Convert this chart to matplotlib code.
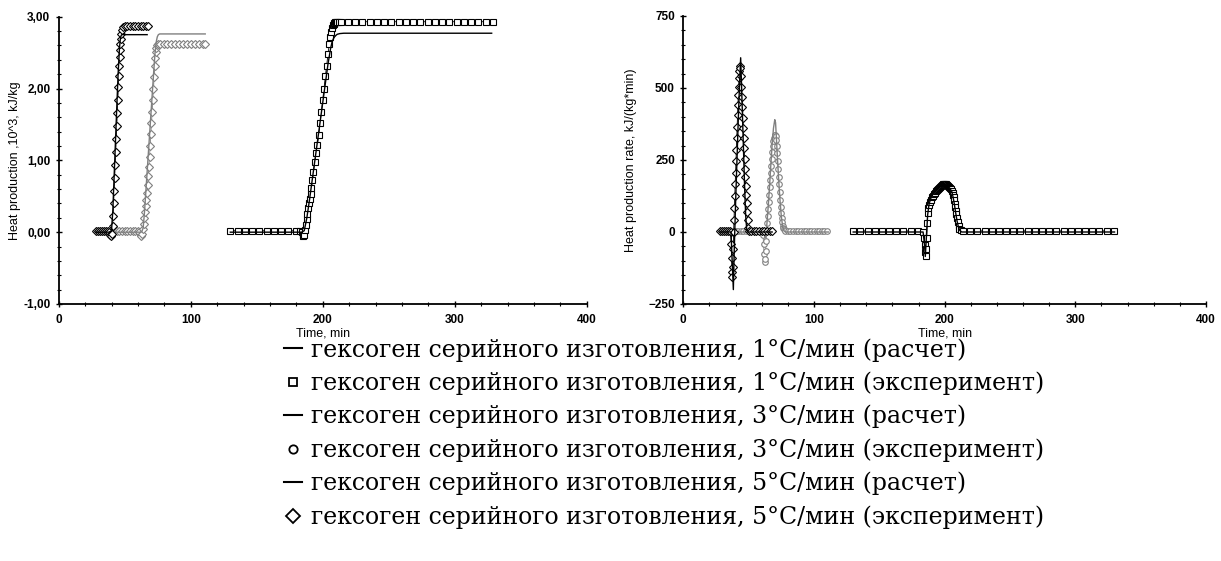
import numpy as np
import matplotlib.pyplot as plt
from matplotlib.lines import Line2D
from matplotlib.ticker import MultipleLocator, FuncFormatter

# ---- heat production, 10^3 kJ/kg (left panel) ----
# 1 C/min, calculation
t_c1 = [130, 184, 186, 188, 190, 192, 194, 196, 198, 200, 202, 204, 206, 207, 208,
        209, 210, 211, 213, 216, 328]
q_c1 = [0, 0, 0.02, 0.2, 0.45, 0.72, 0.99, 1.26, 1.53, 1.8, 2.07, 2.34, 2.56, 2.64, 2.69,
        2.72, 2.74, 2.755, 2.765, 2.77, 2.77]
# 1 C/min, experiment
t_e1 = [130, 135.5, 141, 146.5, 152, 157.5, 163, 168.5, 174, 179.5, 183,
        184, 184.7, 185.3, 186, 186.6, 187.2, 187.8, 188.4, 189, 189.6,
        190.2, 190.8, 191.5, 192.2, 193, 194, 195, 196, 197, 198,
        199, 200, 201, 202, 203, 204, 205, 205.8, 206.5, 207.1,
        207.7, 208.3, 208.9, 209.5, 210.2, 211, 212, 213.5,
        219, 224.5, 230, 235.5, 241, 246.5, 252, 257.5, 263, 268.5, 274,
        279.5, 285, 290.5, 296, 301.5, 307, 312.5, 318, 323.5, 329]
q_e1 = [0.02, 0.02, 0.02, 0.02, 0.02, 0.02, 0.02, 0.02, 0.02, 0.02, 0.02,
        0.0, -0.04, -0.06, -0.04, 0.03, 0.10, 0.18, 0.26, 0.33, 0.40,
        0.46, 0.53, 0.62, 0.72, 0.84, 0.98, 1.10, 1.22, 1.35, 1.52,
        1.68, 1.84, 2.00, 2.17, 2.32, 2.48, 2.62, 2.72, 2.79, 2.84,
        2.88, 2.90, 2.91, 2.92, 2.93, 2.93, 2.93, 2.93,
        2.93, 2.93, 2.93, 2.93, 2.93, 2.93, 2.93, 2.93, 2.93, 2.93, 2.93,
        2.93, 2.93, 2.93, 2.93, 2.93, 2.93, 2.93, 2.93, 2.93, 2.93]
# 3 C/min, calculation
t_c3 = [40, 62, 63, 64, 65, 66, 67, 68, 69, 70, 71, 72, 73, 74, 74.7, 75.5, 76.5, 111]
q_c3 = [0, 0, 0.01, 0.06, 0.28, 0.56, 0.84, 1.12, 1.4, 1.68, 1.96, 2.24, 2.5, 2.66, 2.72,
        2.75, 2.76, 2.76]
# 3 C/min, experiment
t_e3 = [40, 42, 44, 46, 48, 50, 52, 54, 56, 58, 60,
        61.2, 62.0, 62.6, 63.2, 63.8, 64.3, 64.8, 65.3, 65.8, 66.3,
        66.8, 67.3, 67.8, 68.3, 68.8, 69.3, 69.8, 70.3, 70.8, 71.3,
        71.8, 72.3, 72.8, 73.2, 73.6, 74.0, 74.5, 75.5,
        77, 79.5, 82, 85, 88, 91, 94, 97, 100, 103, 106, 109, 111]
q_e3 = [0.02, 0.02, 0.02, 0.02, 0.02, 0.02, 0.02, 0.02, 0.02, 0.02, 0.02,
        0.0, -0.04, -0.06, -0.03, 0.05, 0.12, 0.20, 0.28, 0.36, 0.45,
        0.55, 0.66, 0.78, 0.91, 1.05, 1.20, 1.36, 1.52, 1.68, 1.84,
        2.00, 2.16, 2.31, 2.42, 2.51, 2.57, 2.61, 2.62,
        2.62, 2.62, 2.62, 2.62, 2.62, 2.62, 2.62, 2.62, 2.62, 2.62, 2.62, 2.62, 2.62]
# 5 C/min, calculation
t_c5 = [28, 38, 40, 41, 42, 43, 44, 45, 46, 46.5, 47, 47.5, 48, 67]
q_c5 = [0, 0, 0.02, 0.3, 0.78, 1.26, 1.74, 2.2, 2.55, 2.66, 2.72, 2.745, 2.75, 2.75]
# 5 C/min, experiment
t_e5 = [28, 29.5, 31, 32.5, 34, 35.5, 37, 38, 38.8, 39.5, 40.2,
        40.8, 41.2, 41.6, 42.0, 42.4, 42.8, 43.2, 43.6, 44.0, 44.4,
        44.8, 45.2, 45.5, 45.8, 46.1, 46.4, 46.7, 47.0, 47.4, 47.9,
        48.5, 50, 52, 54, 56, 58, 60, 62, 64, 66, 68]
q_e5 = [0.02, 0.02, 0.02, 0.02, 0.02, 0.02, 0.02, 0.0, -0.04, -0.06, -0.03,
        0.08, 0.22, 0.40, 0.58, 0.76, 0.94, 1.12, 1.30, 1.48, 1.66,
        1.84, 2.02, 2.17, 2.32, 2.44, 2.54, 2.62, 2.69, 2.76, 2.82,
        2.86, 2.87, 2.87, 2.87, 2.87, 2.87, 2.87, 2.87, 2.87, 2.87, 2.87]

# ---- heat production rate, kJ/(kg*min) (right panel) ----
t_rc1 = [130, 183.5, 184.5, 185.2, 186, 187, 188, 189, 190, 192, 194, 196, 198, 200,
         202, 204, 205.5, 206.5, 207.5, 208.5, 209.5, 210.5, 211.5, 213, 330]
r_rc1 = [0, 0, -40, -85, -20, 60, 95, 112, 124, 138, 149, 158, 164, 166,
         162, 152, 140, 120, 95, 65, 38, 18, 6, 0, 0]
t_re1 = [130, 135.5, 141, 146.5, 152, 157.5, 163, 168.5, 174, 179.5,
         183.5, 184.2, 184.6, 185.0, 185.4, 185.8, 186.2, 186.6, 187.0, 187.5,
         188.0, 188.6, 189.2, 190.0, 190.8, 191.6, 192.4, 193.2, 194.0, 194.8,
         195.6, 196.4, 197.2, 198.0, 198.8, 199.6, 200.4, 201.2, 202.0, 202.8,
         203.6, 204.4, 205.0, 205.6, 206.2, 206.6, 207.0, 207.4, 207.8, 208.2,
         208.6, 209.0, 209.5, 210.0, 210.6, 211.3, 212.5,
         214, 219.5, 225, 230.5, 236, 241.5, 247, 252.5, 258, 263.5, 269,
         274.5, 280, 285.5, 291, 296.5, 302, 307.5, 313, 318.5, 324, 329.5]
r_re1 = [4, 4, 4, 4, 4, 4, 4, 4, 4, 4,
         0, -20, -45, -70, -82, -60, -20, 30, 66, 82,
         94, 104, 112, 120, 126, 132, 137, 141, 145, 149,
         153, 157, 160, 163, 165, 166, 166, 165, 163, 160,
         157, 153, 148, 142, 136, 130, 122, 110, 98, 86,
         74, 62, 48, 35, 22, 12, 6,
         4, 4, 4, 4, 4, 4, 4, 4, 4, 4, 4,
         4, 4, 4, 4, 4, 4, 4, 4, 4, 4, 4]
t_rc3 = [40, 62.0, 62.6, 63.2, 64.0, 65.0, 66.0, 67.0, 68.0, 69.0, 70.0, 70.6, 71.2,
         72.0, 73.0, 74.0, 75.0, 76.0, 77.0, 78.0, 111]
r_rc3 = [0, 0, -20, -10, 30, 90, 160, 235, 305, 360, 390, 380, 330,
         260, 180, 110, 55, 20, 5, 0, 0]
t_re3 = [40, 42, 44, 46, 48, 50, 52, 54, 56, 58, 60,
         61.0, 61.4, 61.8, 62.2, 62.6, 63.0, 63.4, 63.8,
         64.2, 64.6, 65.0, 65.4, 65.8, 66.2, 66.6, 67.0, 67.4, 67.8,
         68.2, 68.6, 69.0, 69.4, 69.8, 70.2, 70.6, 71.0, 71.4, 71.8,
         72.2, 72.6, 73.0, 73.4, 73.8, 74.2, 74.6, 75.0, 75.4, 75.8,
         76.2, 76.6, 77.0, 77.5, 78.0,
         80, 82, 84, 86, 88, 90, 92, 94, 96, 98, 100, 102, 104, 106, 108, 110]
r_re3 = [5, 5, 5, 5, 5, 5, 5, 5, 5, 5, 5,
         -10, -40, -75, -103, -95, -65, -30, 5,
         30, 55, 80, 105, 130, 155, 180, 205, 230, 255,
         278, 298, 315, 328, 336, 338, 334, 320, 300, 275,
         248, 220, 192, 165, 138, 112, 88, 66, 48, 33,
         22, 14, 9, 6, 5,
         5, 5, 5, 5, 5, 5, 5, 5, 5, 5, 5, 5, 5, 5, 5, 5]
t_rc5 = [28, 36.5, 37.3, 38.3, 39.0, 40.0, 41.0, 42.0, 43.0, 43.9, 44.5, 45.3, 46.1,
         46.9, 47.7, 48.5, 49.3, 68]
r_rc5 = [0, 0, -90, -200, -60, 100, 240, 380, 510, 605, 520, 400, 280,
         160, 60, 10, 0, 0]
t_re5 = [28, 29.5, 31, 32.5, 34, 35.5,
         36.2, 36.7, 37.0, 37.3, 37.6, 37.9, 38.2, 38.5,
         38.8, 39.1, 39.4, 39.7, 40.0, 40.3, 40.6, 40.9, 41.2, 41.5,
         41.8, 42.1, 42.4, 42.7, 43.0, 43.3, 43.7, 44.1, 44.5, 44.9,
         45.3, 45.7, 46.0, 46.3, 46.6, 46.9, 47.2, 47.5, 47.8, 48.1,
         48.4, 48.8, 49.3, 49.8,
         50.5, 52, 54, 56, 58, 60, 62, 64, 66, 68]
r_re5 = [3, 3, 3, 3, 3, 3,
         0, -40, -90, -140, -155, -120, -60, 0,
         40, 85, 125, 165, 205, 245, 285, 325, 365, 405,
         440, 475, 505, 535, 560, 575, 570, 540, 505, 470,
         435, 395, 360, 325, 290, 255, 220, 190, 160, 130,
         100, 70, 40, 15,
         3, 3, 3, 3, 3, 3, 3, 3, 3, 3]

labels = ["гексоген серийного изготовления, 1°C/мин (расчет)",
          "гексоген серийного изготовления, 1°C/мин (эксперимент)",
          "гексоген серийного изготовления, 3°C/мин (расчет)",
          "гексоген серийного изготовления, 3°C/мин (эксперимент)",
          "гексоген серийного изготовления, 5°C/мин (расчет)",
          "гексоген серийного изготовления, 5°C/мин (эксперимент)"]

GRAY = '#808080'
plt.rcParams['font.family'] = 'Liberation Sans'

fig = plt.figure(figsize=(12.21, 5.61), dpi=100)
W, H = 1221, 561
ax1 = fig.add_axes([58.7 / W, 1 - 304 / H, 528 / W, 287.3 / H])
ax2 = fig.add_axes([683.3 / W, 1 - 304 / H, 522.7 / W, 288 / H])

mk = dict(ms=4.0, mew=0.8, mfc='white', lw=0.6)

# left panel
ax1.plot(t_e1, q_e1, marker='s', color='black', **mk)
ax1.plot(t_c1, q_c1, color='black', lw=1.0)
ax1.plot(t_e3, q_e3, marker='D', color=GRAY, **mk)
ax1.plot(t_c3, q_c3, color=GRAY, lw=1.0)
ax1.plot(t_e5, q_e5, marker='D', color='black', **mk)
ax1.plot(t_c5, q_c5, color='black', lw=1.0)

# right panel
ax2.plot(t_re1, r_re1, marker='s', color='black', **mk)
ax2.plot(t_rc1, r_rc1, color='black', lw=1.0)
ax2.plot(t_re3, r_re3, marker='o', color=GRAY, **mk)
ax2.plot(t_rc3, r_rc3, color=GRAY, lw=1.0)
ax2.plot(t_re5, r_re5, marker='D', color='black', **mk)
ax2.plot(t_rc5, r_rc5, color='black', lw=1.0)

ax1.set_xlim(0, 400)
ax1.set_ylim(-1, 3)
ax1.yaxis.set_major_locator(MultipleLocator(1))
ax1.yaxis.set_minor_locator(MultipleLocator(0.2))
ax1.yaxis.set_major_formatter(FuncFormatter(lambda v, p: f"{v:.2f}".replace('.', ',')))
ax1.set_ylabel("Heat production ,10^3, kJ/kg", fontsize=9)
ax1.yaxis.set_label_coords(-0.072, 0.5)
ax1.xaxis.set_label_coords(0.521, -0.082)

ax2.set_xlim(0, 400)
ax2.set_ylim(-250, 750)
ax2.yaxis.set_major_locator(MultipleLocator(250))
ax2.yaxis.set_minor_locator(MultipleLocator(50))
ax2.set_ylabel("Heat production rate, kJ/(kg*min)", fontsize=9)
ax2.yaxis.set_label_coords(-0.088, 0.5)
ax2.xaxis.set_label_coords(0.524, -0.082)

for ax in (ax1, ax2):
    ax.set_xlabel("Time, min", fontsize=9)
    ax.xaxis.set_major_locator(MultipleLocator(100))
    ax.xaxis.set_minor_locator(MultipleLocator(20))
    for s in ('top', 'right'):
        ax.spines[s].set_visible(False)
    for s in ('left', 'bottom'):
        ax.spines[s].set_linewidth(1.3)
    ax.tick_params(which='major', direction='inout', length=5, width=1, labelsize=8.5)
    ax.tick_params(axis='x', which='major', pad=5)
    ax.tick_params(which='minor', direction='inout', length=3, width=0.8)
    for lab in ax.get_xticklabels() + ax.get_yticklabels():
        lab.set_fontweight('bold')

handles = [Line2D([], [], color='black', lw=1.5),
           Line2D([], [], ls='none', marker='s', ms=6, mfc='white', mec='black', mew=1.3),
           Line2D([], [], color='black', lw=1.5),
           Line2D([], [], ls='none', marker='o', ms=6, mfc='white', mec='black', mew=1.3),
           Line2D([], [], color='black', lw=1.5),
           Line2D([], [], ls='none', marker='D', ms=7, mfc='white', mec='black', mew=1.3)]
fig.legend(handles, labels, loc='upper left', bbox_to_anchor=(284 / W, 1 - 338 / H),
           frameon=False, handlelength=0.75, handletextpad=0.4, labelspacing=0.42,
           borderpad=0, borderaxespad=0,
           prop={'family': 'DejaVu Serif', 'size': 17})

fig.savefig('out.png', dpi=100)
